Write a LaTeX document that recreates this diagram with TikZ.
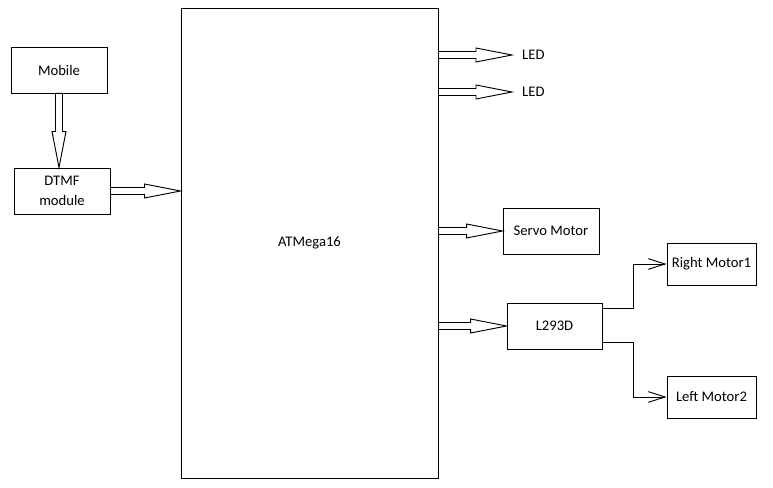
\documentclass[tikz,border=0pt]{standalone}
\usepackage{fontspec}
\setmainfont{Carlito}
\usetikzlibrary{calc,arrows.meta}

\begin{document}
\begin{tikzpicture}[x=0.03cm, y=-0.03cm,
    block/.style ={rectangle, draw, line width=0.8pt, align=center, inner sep=0pt,
      minimum width=2.88cm, minimum height=1.38cm, font=\fontsize{12.5}{17}\selectfont},
    motor/.style ={block, minimum width=2.67cm, minimum height=1.26cm},
    ledtext/.style ={inner xsep=0.3cm, inner ysep=0pt, font=\fontsize{12.5}{17}\selectfont},
    barb/.style ={line width=0.8pt, -{Straight Barb[length=0.5cm, width=0.32cm]}},
    hollow/.style ={line width=0.8pt, line join=miter, to path={
      ($(\tikztostart)!0.105cm!90:(\tikztotarget)$)
      -- ($(\tikztotarget)!1.085cm!-5.55:(\tikztostart)$)
      -- ($(\tikztotarget)!1.1cm!-11:(\tikztostart)$)
      -- (\tikztotarget)
      -- ($(\tikztotarget)!1.1cm!11:(\tikztostart)$)
      -- ($(\tikztotarget)!1.085cm!5.55:(\tikztostart)$)
      -- ($(\tikztostart)!0.105cm!-90:(\tikztotarget)$)
      -- cycle}}]
   \useasboundingbox (0,0) rectangle (773,488);
   \node[block] (mobile) at (59,70) {Mobile};
   \node[block] (dtmf) at (62,191) {DTMF\\module};
   \node[block, minimum width=7.71cm, minimum height=14.1cm] (atmega) at (309.5,243) {ATMega16};
   \node[ledtext, anchor=west] (led1) at (512,55) {LED};
   \node[ledtext, anchor=west] (led2) at (512,92) {LED};
   \node[block] (servo) at (551,231) {Servo Motor};
   \node[block, minimum width=2.85cm] (driver) at (554.5,326) {L293D};
   \node[motor] (right) at (711.5,264) {Right Motor1};
   \node[motor] (left) at (711.5,397) {Left Motor2};
   % hollow arrows
   \draw[hollow] (mobile.south) to (mobile.south |- dtmf.north);
   \draw[hollow] (dtmf.east) to (dtmf.east -| atmega.west);
   \draw[hollow] (atmega.east |- led1.west) to (led1.west);
   \draw[hollow] (atmega.east |- led2.west) to (led2.west);
   \draw[hollow] (atmega.east |- servo.west) to (servo.west);
   \draw[hollow] (atmega.east |- driver.west) to (driver.west);
   % motor lines
   \draw[barb] ($(driver.north east)+(0,6)$) -- ++(31,0) |- (right.west);
   \draw[barb] ($(driver.south east)+(0,-7)$) -- ++(31,0) |- (left.west);
 \end{tikzpicture}
\end{document}
